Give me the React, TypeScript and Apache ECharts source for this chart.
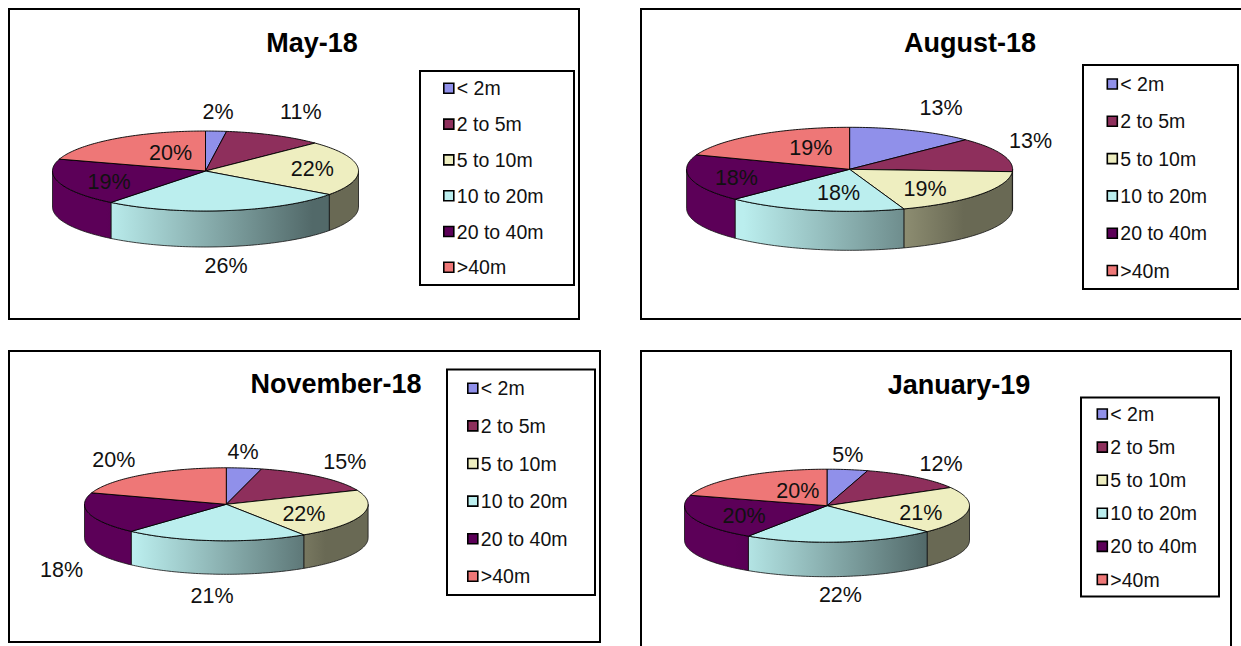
import React, { useEffect, useRef } from "react";
import * as echarts from "echarts";

const categories = ["< 2m", "2 to 5m", "5 to 10m", "10 to 20m", "20 to 40m", ">40m"];
const colors = ["#9090EA", "#8E2F5C", "#EEEEC0", "#BBEEEE", "#5C0058", "#EE7777"];
const panelTitles = ["May-18", "August-18", "November-18", "January-19"];
const may18 = [2.2, 10.5, 22.3, 25.6, 19.2, 20.2];
const aug18 = [12.6, 13.3, 18.7, 17.8, 18.2, 19.4];
const nov18 = [4, 14.7, 22.1, 20.9, 18.4, 19.9];
const jan19 = [4.6, 12.1, 20.9, 21.7, 20.3, 20.4];
const panelValues = [may18, aug18, nov18, jan19];

const FONT = '"Liberation Sans", Arial, sans-serif';

// Layout only: frame, legend box, pie geometry, title and label anchors per panel
const layouts = [
  {
    frame: [9, 9, 570, 310], legendBox: [420, 71, 154, 214], legendX: 443, legendY: 88.3, legendStep: 35.8,
    cx: 205.5, cy: 171, rx: 153, ry: 40, depth: 36, title: [312, 43],
    labels: [[218, 111.7], [300.8, 111.7], [312.3, 169.3], [226, 265.7], [109, 181.7], [170.5, 153.3]],
  },
  {
    frame: [641, 9, 660, 310], legendBox: [1083, 65, 155, 224], legendX: 1106.5, legendY: 84, legendStep: 37.3,
    cx: 849.6, cy: 169.3, rx: 163, ry: 42, depth: 39, title: [970, 43],
    labels: [[941, 108.3], [1030.6, 140.7], [925, 188.7], [838.5, 192.7], [736.4, 178.3], [810.8, 148.3]],
  },
  {
    frame: [9, 351, 591, 291], legendBox: [447, 369.5, 148, 225.5], legendX: 467, legendY: 388.3, legendStep: 37.6,
    cx: 226.3, cy: 504.3, rx: 141.8, ry: 36.5, depth: 33.5, title: [336, 383.5],
    labels: [[243, 452.3], [344.8, 461.7], [303.9, 514], [212, 596], [61.5, 570], [113.8, 460]],
  },
  {
    frame: [641, 351, 590, 340], legendBox: [1081, 397.5, 138, 199], legendX: 1096.5, legendY: 414, legendStep: 33.1,
    cx: 827, cy: 505.7, rx: 142.5, ry: 36.5, depth: 34.5, title: [959, 384.5],
    labels: [[847.8, 455], [941, 464], [920.8, 513.3], [840.4, 595], [744, 515.7], [797.8, 490.7]],
  },
];

const LEGEND_ROW = 20;
const TAU = Math.PI * 2;

function shade(hex: string, f: number) {
  const n = parseInt(hex.slice(1), 16);
  const c = [(n >> 16) & 255, (n >> 8) & 255, n & 255].map((v) => Math.round(v * f));
  return `rgb(${c[0]},${c[1]},${c[2]})`;
}

function rim(l: any, a0: number, a1: number, dy: number) {
  const steps = Math.max(2, Math.ceil(Math.abs(a1 - a0) / 0.02));
  const pts: number[][] = [];
  for (let k = 0; k <= steps; k++) {
    const a = a0 + ((a1 - a0) * k) / steps;
    pts.push([l.cx + l.rx * Math.sin(a), l.cy - l.ry * Math.cos(a) + dy]);
  }
  return pts;
}

function makeRenderItem(catIndex: number) {
  return (_params: any, api: any) => {
    const panel = api.value(0);
    const startPct = api.value(1);
    const val = api.value(2);
    const l = layouts[panel];
    const a0 = (startPct / 100) * TAU;
    const a1 = ((startPct + val) / 100) * TAU;
    const base = colors[catIndex];
    const children: any[] = [];

    // side wall: only the part of the slice facing the viewer
    const s0 = Math.max(a0, Math.PI / 2);
    const s1 = Math.min(a1, (Math.PI * 3) / 2);
    if (s1 > s0) {
      const upper = rim(l, s0, s1, 0);
      const lower = rim(l, s1, s0, l.depth);
      children.push({
        type: "polygon",
        shape: { points: upper.concat(lower) },
        style: {
          fill: {
            type: "linear",
            global: true,
            x: l.cx - 0.65 * l.rx,
            y: 0,
            x2: l.cx + 0.7 * l.rx,
            y2: 0,
            colorStops: [
              { offset: 0, color: shade(base, 1) },
              { offset: 1, color: shade(base, 0.44) },
            ],
          },
          stroke: "#111",
          lineWidth: 0.8,
        },
      });
    }

    // top face
    children.push({
      type: "polygon",
      shape: { points: [[l.cx, l.cy] as number[]].concat(rim(l, a0, a1, 0)) },
      style: { fill: base, stroke: "#000", lineWidth: 0.9 },
      z2: 2,
    });

    // percentage label
    const p = l.labels[catIndex];
    children.push({
      type: "text",
      z2: 10,
      style: {
        text: `${Math.round(val)}%`,
        x: p[0],
        y: p[1],
        align: "center",
        verticalAlign: "middle",
        fill: "#111",
        font: `21.5px ${FONT}`,
      },
    });
    return { type: "group", children };
  };
}

export default function App() {
  const ref = useRef<HTMLDivElement>(null);
  useEffect(() => {
    document.body.style.margin = "0";
    document.body.style.overflow = "hidden";
    const chart = echarts.init(ref.current!, undefined, { renderer: "svg" });

    const series = categories.map((name, c) => ({
      type: "custom",
      name,
      coordinateSystem: "none",
      itemStyle: { color: colors[c] },
      renderItem: makeRenderItem(c),
      silent: true,
      data: panelValues.map((vals, p) => {
        const start = vals.slice(0, c).reduce((a, b) => a + b, 0);
        return [p, start, vals[c]];
      }),
    }));

    const frames = layouts.flatMap((l) => [l.frame, l.legendBox]).map((r) => ({
      type: "rect",
      shape: { x: r[0], y: r[1], width: r[2], height: r[3] },
      style: { fill: "transparent", stroke: "#000", lineWidth: 2 },
      silent: true,
    }));

    chart.setOption({
      animation: false,
      backgroundColor: "#fff",
      title: panelTitles.map((text, i) => ({
        text,
        left: layouts[i].title[0],
        top: layouts[i].title[1] - 15,
        textAlign: "center",
        padding: 0,
        textStyle: { fontFamily: FONT, fontSize: 27, fontWeight: "bold", color: "#000", lineHeight: 30 },
      })),
      legend: layouts.map((l) => ({
        orient: "vertical",
        left: l.legendX,
        top: l.legendY - LEGEND_ROW / 2,
        padding: 0,
        itemGap: l.legendStep - LEGEND_ROW,
        itemWidth: 10,
        itemHeight: 10,
        selectedMode: false,
        icon: "rect",
        itemStyle: { borderColor: "#000", borderWidth: 1.6 },
        textStyle: { fontFamily: FONT, fontSize: 19.5, color: "#111", lineHeight: LEGEND_ROW, padding: [0, 0, 0, -2] },
        data: categories,
      })),
      graphic: { elements: frames },
      series,
    });
    return () => chart.dispose();
  }, []);
  return <div ref={ref} style={{ width: 1241, height: 646 }} />;
}
